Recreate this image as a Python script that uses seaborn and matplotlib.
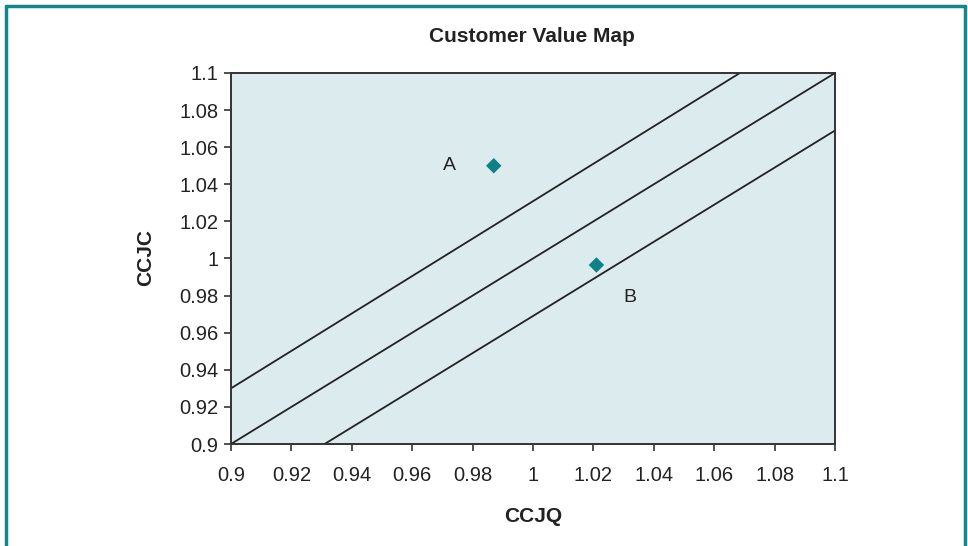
import numpy as np
import pandas as pd
import matplotlib
matplotlib.use("Agg")
import matplotlib.pyplot as plt
import seaborn as sns
from matplotlib.lines import Line2D

# Customer positions (relative quality vs relative cost)
customers = ["A", "B"]
ccjq = [0.987, 1.021]
ccjc = [1.050, 0.9965]

# label positions for the customers
label_x = [0.9725, 1.032]
label_y = [1.050, 0.979]

# fair value line and the two band lines (endpoints)
band_x = [[0.9, 1.0685], [0.9, 1.1], [0.931, 1.1]]
band_y = [[0.93, 1.1], [0.9, 1.1], [0.9, 1.069]]

ticks = [0.9, 0.92, 0.94, 0.96, 0.98, 1.0, 1.02, 1.04, 1.06, 1.08, 1.1]
tick_labels = ["0.9", "0.92", "0.94", "0.96", "0.98", "1", "1.02", "1.04", "1.06", "1.08", "1.1"]

df = pd.DataFrame({"CCJQ": ccjq, "CCJC": ccjc, "customer": customers})

sns.set_style("white")
plt.rcParams['font.family'] = ['Liberation Sans', 'DejaVu Sans']

fig = plt.figure(figsize=(9.68, 5.46), dpi=100)
ax = fig.add_axes([231/968, 1-444/546, (835-231)/968, (444-73)/546])
ax.set_facecolor("#dcebee")

for xs, ys in zip(band_x, band_y):
    ax.plot(xs, ys, color="#222222", lw=1.3, solid_capstyle="butt")

sns.scatterplot(data=df, x="CCJQ", y="CCJC", marker="D", s=62,
                color="#0e8088", edgecolor="none", ax=ax, zorder=3)

for name, lx, ly in zip(customers, label_x, label_y):
    ax.text(lx, ly, name, fontsize=14, ha="center", va="center", color="#222222")

ax.set_xlim(0.9, 1.1)
ax.set_ylim(0.9, 1.1)
ax.set_xticks(ticks)
ax.set_xticklabels(tick_labels)
ax.set_yticks(ticks)
ax.set_yticklabels(tick_labels)
ax.tick_params(axis="both", direction="out", length=5, width=1.2, color="#333333",
               labelsize=14.5, labelcolor="#222222", bottom=True, left=True)
ax.tick_params(axis="x", pad=11)
ax.tick_params(axis="y", pad=4)
for sp in ax.spines.values():
    sp.set_color("#333333")
    sp.set_linewidth(1.4)
    sp.set_visible(True)

ax.set_xlabel("")
ax.set_ylabel("")
fig.text(533/968, 1-516/546, "CCJQ", fontsize=15, fontweight="bold",
         ha="center", va="center", color="#222222")
fig.text(146/968, 1-258/546, "CCJC", fontsize=15, fontweight="bold",
         rotation=90, ha="center", va="center", color="#222222")
fig.text(532/968, 1-37/546, "Customer Value Map", fontsize=15, fontweight="bold",
         ha="center", va="center", color="#222222")

# teal frame around the figure (bottom edge is cut off)
teal = "#12868f"
fig.add_artist(Line2D([6/968, 6/968], [0, 1-6/546], color=teal, lw=2.5, transform=fig.transFigure))
fig.add_artist(Line2D([965/968, 965/968], [0, 1-6/546], color=teal, lw=2.5, transform=fig.transFigure))
fig.add_artist(Line2D([6/968, 965/968], [1-6/546, 1-6/546], color=teal, lw=2.5, transform=fig.transFigure))

fig.savefig("out.png", dpi=100)
